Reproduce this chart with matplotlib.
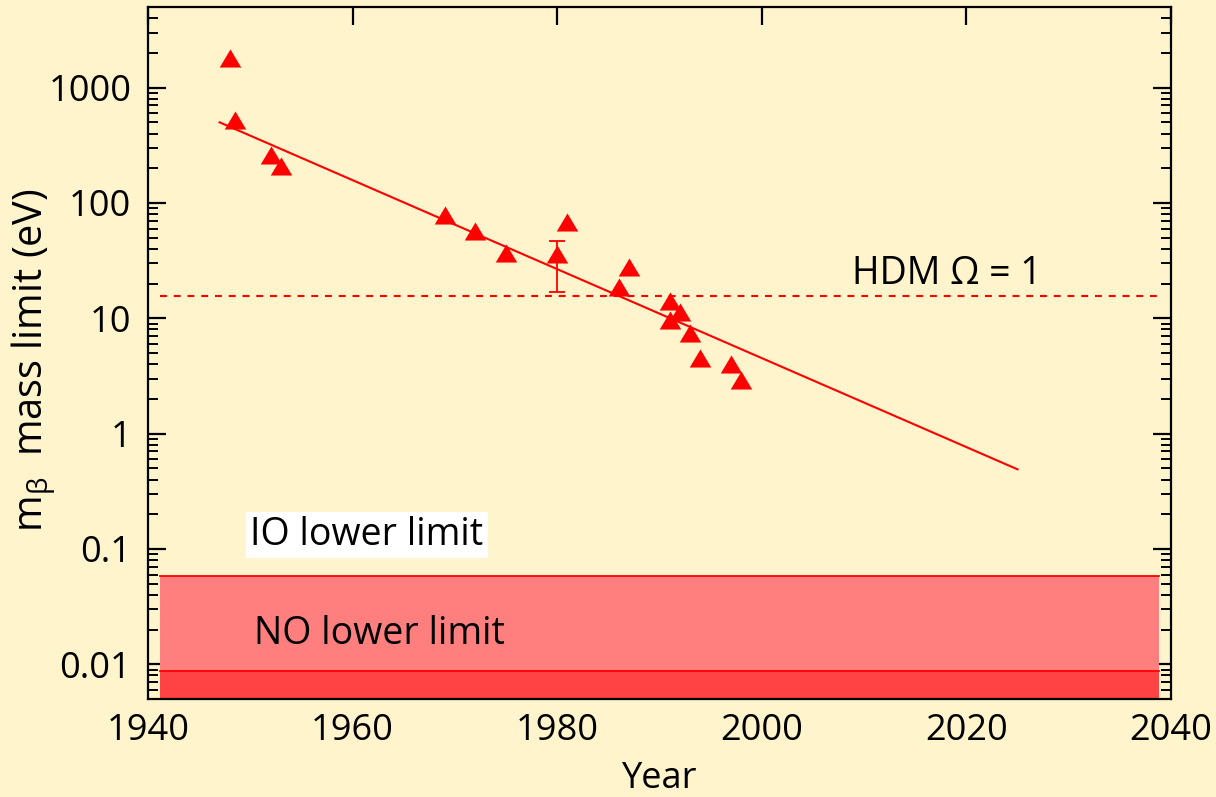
import numpy as np
import matplotlib
matplotlib.use('Agg')
import matplotlib.pyplot as plt
from matplotlib.ticker import FixedLocator, FixedFormatter, LogLocator, NullFormatter

# beta-decay mass limits
years = [1948.0, 1948.5, 1952.0, 1953.0, 1969.0, 1972.0, 1975.0, 1981.0,
         1986.0, 1987.0, 1991.0, 1991.0, 1992.0, 1993.0, 1994.0, 1997.0, 1998.0]
limits = [1800, 520, 260, 210, 78, 57, 36.5, 68,
          18.8, 28, 14, 9.7, 11.4, 7.5, 4.5, 4.0, 2.9]

# the one point with an error bar
err_year = 1980.0
err_val = 36.0
err_lo = 17.0
err_hi = 47.0

# trend line end points
fit_years = [1947.0, 2025.0]
fit_vals = [500.0, 0.49]

hdm_limit = 15.5
io_limit = 0.058
no_limit = 0.0088
band_years = [1941.2, 2038.8]

ytick_vals = [0.01, 0.1, 1, 10, 100, 1000]
ytick_labels = ['0.01', '0.1', '1', '10', '100', '1000']
xtick_vals = [1940, 1960, 1980, 2000, 2020, 2040]

bg = '#fff4cc'
red = '#ff0000'

plt.rcParams['font.family'] = ['Open Sans', 'DejaVu Sans']
plt.rcParams['mathtext.fontset'] = 'custom'
plt.rcParams['mathtext.rm'] = 'Open Sans'

fig = plt.figure(figsize=(12.16, 7.97), dpi=100, facecolor=bg)
ax = fig.add_axes([148 / 1216, 98 / 797, 1023 / 1216, 692 / 797])
ax.set_facecolor(bg)
ax.set_yscale('log')
ax.set_xlim(1940, 2040)
ax.set_ylim(0.005, 5000)

# NO / IO bands
ax.fill_between(band_years, 0.005, no_limit, color='#ff4242', lw=0, zorder=2)
ax.fill_between(band_years, no_limit, io_limit, color='#ff7f7f', lw=0, zorder=2)
ax.plot(band_years, [io_limit, io_limit], color=red, lw=1.3, zorder=2.1)
ax.plot(band_years, [no_limit, no_limit], color=red, lw=1.3, zorder=2.1)

# HDM line
ax.plot(band_years, [hdm_limit, hdm_limit], color=red, lw=1.5, dashes=(3.3, 3.3))

ax.plot(fit_years, fit_vals, color=red, lw=1.5)

tri = [(-1, -0.84), (1, -0.84), (0, 0.84)]
ax.plot(years, limits, ls='none', marker=tri, ms=15.5, mew=0, color=red, zorder=3)
ax.errorbar([err_year], [err_val],
            yerr=[[err_val - err_lo], [err_hi - err_val]],
            fmt='none', ecolor=red, elinewidth=1.3, capsize=6, capthick=1.3)
ax.plot([err_year], [err_val], ls='none', marker=tri, ms=15.5, mew=0, color=red, zorder=3)

ax.text(2008.8, 20, 'HDM \u03a9 = 1', fontsize=27, ha='left', va='baseline')
ax.text(1961.4, 0.132, 'IO lower limit', fontsize=27, ha='center', va='center',
        bbox=dict(facecolor='white', edgecolor='none', pad=3), zorder=4)
ax.text(1962.6, 0.0184, 'NO lower limit', fontsize=27, ha='center', va='center', zorder=4)

# axes styling
for s in ax.spines.values():
    s.set_linewidth(1.6)
ax.xaxis.set_major_locator(FixedLocator(xtick_vals))
ax.yaxis.set_major_locator(FixedLocator(ytick_vals))
ax.yaxis.set_major_formatter(FixedFormatter(ytick_labels))
ax.yaxis.set_minor_locator(LogLocator(base=10, subs=np.arange(2, 10), numticks=20))
ax.yaxis.set_minor_formatter(NullFormatter())
ax.tick_params(axis='both', which='major', direction='in', length=13, width=1.6,
               top=True, right=True, labelsize=26)
ax.tick_params(axis='y', which='minor', direction='in', length=7, width=1.4,
               left=True, right=True)
ax.tick_params(axis='x', which='major', bottom=False, pad=10)
ax.tick_params(axis='y', which='major', pad=12)

ax.set_xlabel('Year', fontsize=26)
ax.xaxis.set_label_coords(0.5, -0.09)
ax.set_ylabel(r'm$_{\mathregular{\beta}}$  mass limit (eV)', fontsize=28.5)
ax.yaxis.set_label_coords(-0.088, 0.49)

fig.savefig('out.png', dpi=100, facecolor=bg)
